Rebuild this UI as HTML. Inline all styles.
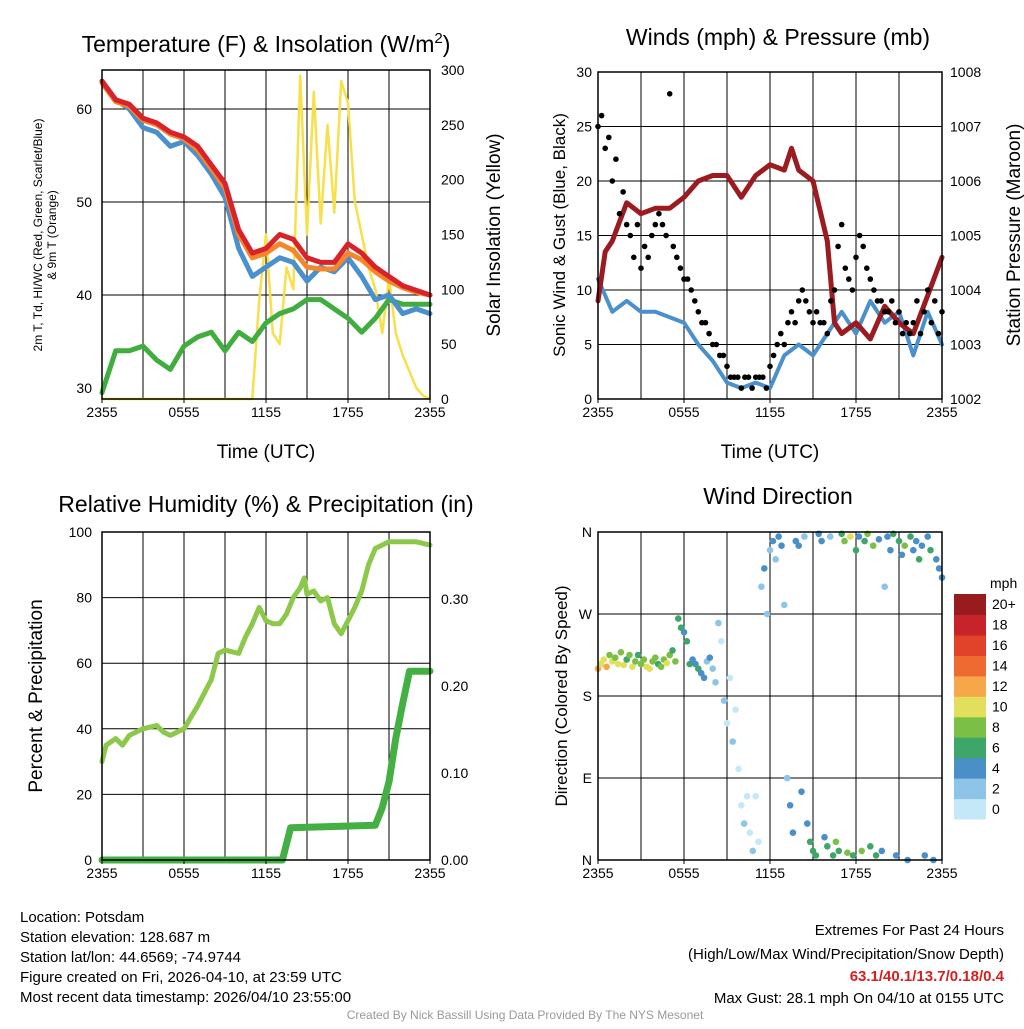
<!DOCTYPE html>
<html><head><meta charset="utf-8"><title>Mesonet Meteogram</title>
<style>
html,body{margin:0;padding:0;background:#fff;}
svg text{font-family:"Liberation Sans",Arial,sans-serif;fill:#000;}
</style></head>
<body>
<svg id="chart" width="1024" height="1024" viewBox="0 0 1024 1024" xmlns="http://www.w3.org/2000/svg">
<rect width="1024" height="1024" fill="#fff"/>
<g id="layer"></g>
<text x="20" y="922" font-size="15">Location: Potsdam</text>
<text x="20" y="942" font-size="15">Station elevation: 128.687 m</text>
<text x="20" y="962" font-size="15">Station lat/lon: 44.6569; -74.9744</text>
<text x="20" y="982" font-size="15">Figure created on Fri, 2026-04-10, at 23:59 UTC</text>
<text x="20" y="1002" font-size="15">Most recent data timestamp: 2026/04/10 23:55:00</text>
<text x="1004" y="935" font-size="15" text-anchor="end">Extremes For Past 24 Hours</text>
<text x="1004" y="959" font-size="15" text-anchor="end">(High/Low/Max Wind/Precipitation/Snow Depth)</text>
<text x="1004" y="981" font-size="15" font-weight="bold" text-anchor="end" style="fill:#d42020">63.1/40.1/13.7/0.18/0.4</text>
<text x="1004" y="1003" font-size="15" text-anchor="end">Max Gust: 28.1 mph On 04/10 at 0155 UTC</text>
<text x="525" y="1019" font-size="12" text-anchor="middle" style="fill:#999">Created By Nick Bassill Using Data Provided By The NYS Mesonet</text>
</svg>
<script>
// ---- data ----
const xTickLabels = ["2355","0555","1155","1755","2355"];
const hourly = [0,1,2,3,4,5,6,7,8,9,10,11,12,13,14,15,16,17,18,19,20,21,22,23,24];
const airTemp = [63,61,60.5,59,58.5,57.5,57,56,54,52,47,44.5,45,46.5,46,44,43.5,43.5,45.5,44.5,43,42,41,40.5,40];
const nineMTemp = [62.8,60.8,60.3,58.8,58.3,57.3,56.8,55.6,53.6,51.5,46.5,44,44.5,45.5,44.8,43,42.8,42.8,44.5,43.8,42.5,41.5,40.8,40.3,40];
const windChill = [63,61,60,58,57.5,56,56.5,55,53,50.5,45,42,43,44,43.5,41.5,43,42.5,44,42,39.5,40,38,38.5,38];
const dewPoint = [29.5,34,34,34.5,33,32,34.5,35.5,36,34,36,35,37,38,38.5,39.5,39.5,38.5,37.5,36,37.5,39.5,39,39,39];
const tempTicks = [30,40,50,60];
const solarTicks = [0,50,100,150,200,250,300];
const solarHours = [];
for (let i=0;i<=48;i++) solarHours.push(i/2);
const solar = [0,0,0,0,0,0,0,0,0,0,0,0,0,0,0,0,0,0,0,0,0,0,0,90,150,60,50,120,100,295,150,280,160,250,170,290,270,180,150,120,100,60,110,60,40,25,10,3,0];

const windHours = hourly;
const sonicWind = [11,8,9,8,8,7.5,7,5,3.5,1.5,1,1.5,1,4,5,4,6,8,6,9,7,8,4,8,5];
const pressHours = [0,0.5,1,2,3,4,5,6,7,8,9,10,11,12,13,13.5,14,15,16,16.5,17,18,19,20,21,22,23,24];
const pressure = [1003.8,1004.7,1004.9,1005.6,1005.4,1005.5,1005.5,1005.7,1006.0,1006.1,1006.1,1005.7,1006.1,1006.3,1006.2,1006.6,1006.2,1006.0,1004.9,1003.4,1003.2,1003.4,1003.1,1003.7,1003.4,1003.2,1003.9,1004.6];
const gustHours = [];
for (let i=0;i<=96;i++) gustHours.push(i/4);
const gusts = [25,26,23,24,20,22,17,19,16, 15,13,16,12,14,13,15,16, 17,16,15,28,14,13,12,11, 11,10,9,8,7,7,6,5, 5,4,4,3,2,2,2,1, 2,2,1,2,2,2,1,3, 4,5,6,5,7,8,7,9, 10,9,8,7,8,7,7,6, 9,10,14,16,12,11,10,13, 15,14,12,11,10,9,9,8, 8,9,7,8,6,7,6,7, 9,6,8,10,7,9,6,8];
const windTicks = [0,5,10,15,20,25,30];
const pressTicks = [1002,1003,1004,1005,1006,1007,1008];

const rhHours = [0,0.3,1,1.5,2,3,4,4.5,5,6,7,8,8.5,9,10,10.5,11,11.5,12,12.5,13,13.5,14,14.5,14.8,15,15.5,16,16.5,17,17.5,18,18.5,19,19.5,20,21,22,23,24];
const rh = [30,35,37,35,38,40,41,39,38,40,47,55,63,64,63,68,72,77,73,72,72,75,80,83,86,81,82,79,80,72,69,73,77,82,90,95,97,97,97,96];
const precipHours = [0,13.2,13.8,20,20.5,21,21.5,22,22.5,24];
const precip = [0,0,0.037,0.04,0.06,0.09,0.14,0.18,0.217,0.217];
const rhTicks = [0,20,40,60,80,100];
const precipTicks = ["0.00","0.10","0.20","0.30"];

const wdHours = [0,0.2,0.4,0.6,0.8,1,1.2,1.4,1.6,1.8,2,2.2,2.4,2.6,2.8,3,3.2,3.4,3.6,3.8,4,4.2,4.4,4.6,4.8,5,5.2,5.4,5.6,5.8,6,6.2,6.4,6.6,6.8,7,7.2,7.4,7.6,7.8,8,8.2,8.4,8.6,8.8,9,9.2,9.4,9.6,9.8,10,10.2,10.4,10.6,10.8,11,11.2,11.4,11.6,11.8,12,12.2,12.4,12.6,12.8,13,13.2,13.4,13.6,13.8,14,14.2,14.4,14.6,14.8,15,15.2,15.4,15.6,15.8,16,16.2,16.4,16.6,16.8,17,17.2,17.4,17.6,17.8,18,18.2,18.4,18.6,18.8,19,19.2,19.4,19.6,19.8,20,20.2,20.4,20.6,20.8,21,21.2,21.4,21.6,21.8,22,22.2,22.4,22.6,22.8,23,23.2,23.4,23.6,23.8,24];
const wdDirs = [210,215,220,212,225,218,222,215,228,214,220,225,212,218,225,215,220,212,210,218,222,215,212,220,216,225,230,218,265,255,250,240,215,220,215,210,205,200,218,222,210,195,260,240,175,150,200,130,165,100,60,40,70,30,10,70,20,300,320,270,340,350,330,355,345,280,90,60,30,350,345,75,355,40,20,10,5,358,350,25,15,355,5,20,10,358,350,8,355,5,340,355,10,350,358,15,345,5,352,10,300,355,340,358,5,350,335,345,0,355,340,350,330,345,5,355,340,0,330,320,310];
const wdSpeeds = [12,11,10,12,9,10,8,11,9,10,7,8,10,9,7,8,9,10,11,8,9,7,8,9,10,8,7,9,6,7,5,6,7,5,4,6,5,4,3,5,3,2,2,1,2,1,1,2,0,1,1,2,1,1,2,1,0,3,4,2,3,4,2,4,5,3,3,4,5,4,5,4,3,5,6,7,6,4,5,5,6,3,7,8,7,7,8,9,10,7,6,4,8,7,9,7,8,6,5,5,2,4,5,7,4,6,5,8,5,6,4,5,6,4,4,5,6,4,5,4,5];
const cbLabels = ["0","2","4","6","8","10","12","14","16","18","20+"];
const cbColors = ["#c5e8f8","#8dc4e8","#4a8fc8","#3fa66a","#7cbf46","#e2df5c","#f6a74a","#ee6a30","#e0432a","#c6242a","#981b1e"];

// ---- drawing ----
const NS="http://www.w3.org/2000/svg";
const layer=document.getElementById('layer');
function el(tag,attrs,parent){const e=document.createElementNS(NS,tag);for(const k in attrs)e.setAttribute(k,attrs[k]);(parent||layer).appendChild(e);return e;}
function txt(s,x,y,size,anchor,name,extra){const t=el('text',Object.assign({x:x,y:y,'font-size':size,'text-anchor':anchor||'start'},extra||{}));t.textContent=s;


return t;}
function frame(x0,x1,y0,y1,name,hLines){
  const g=el('g',{});
  
  
  for(let i=1;i<8;i++){const x=x0+(x1-x0)*i/8;el('line',{x1:x,x2:x,y1:y0,y2:y1,stroke:'#000','stroke-width':1},g);}
  hLines.forEach(y=>el('line',{x1:x0,x2:x1,y1:y,y2:y,stroke:'#000','stroke-width':1},g));
  return g;
}
function border(x0,x1,y0,y1,name){const r=el('rect',{x:x0,y:y0,width:x1-x0,height:y1-y0,fill:'none',stroke:'#000','stroke-width':1.5});

}
function xLabels(x0,x1,y,name){xTickLabels.forEach((s,i)=>{txt(s,x0+(x1-x0)*i/4,y,14,'middle',name);
el('line',{x1:x0+(x1-x0)*i/4,x2:x0+(x1-x0)*i/4,y1:y-14,y2:y-19,stroke:'#000'});});}
function line(xs,ys,X,Y,color,w,name){const pts=xs.map((h,i)=>X(h).toFixed(1)+','+Y(ys[i]).toFixed(1)).join(' ');
const p=el('polyline',{points:pts,fill:'none',stroke:color,'stroke-width':w,'stroke-linejoin':'round','stroke-linecap':'round'});

}

// Panel 1: temperature
(function(){
  const x0=102,x1=430,y0=70,y1=399;
  const X=h=>x0+h*(x1-x0)/24, YL=v=>388-(v-30)*9.3, YR=v=>y1-v*(y1-y0)/300;
  frame(x0,x1,y0,y1,'temperature-grid',[50,40,60].map(YL).concat([YL(50)]));
  line(solarHours,solar,X,YR,'#f7e04a',2.5,'solar-insolation-line');
  line(hourly,dewPoint,X,YL,'#3fae3f',5,'dewpoint-line');
  line(hourly,windChill,X,YL,'#4a90cc',5,'wind-chill-line');
  line(hourly,nineMTemp,X,YL,'#f7862a',5,'9m-temp-line');
  line(hourly,airTemp,X,YL,'#d8232a',5,'air-temp-line');
  border(x0,x1,y0,y1,'temperature-plot-frame');
  tempTicks.forEach(v=>txt(String(v),92,YL(v)+5,14,'end','temp-tick-label'));
  solarTicks.forEach(v=>txt(String(v),441,YR(v)+5,14,'start','solar-tick-label'));
  xLabels(x0,x1,417,'temp-x-tick-label');
  txt('Time (UTC)',266,458,19,'middle','temp-x-axis-title');
  const t=txt('Temperature (F) & Insolation (W/m',266,52,23,'middle','temp-panel-title');
  const sup=el('tspan',{dy:-9,'font-size':15},t);sup.textContent='2';
  const cl=el('tspan',{dy:9},t);cl.textContent=')';
  txt('Solar Insolation (Yellow)',0,0,19,'middle','solar-axis-title',{transform:'translate(500,235) rotate(-90)'});
  txt('2m T, T',0,0,12,'middle','temp-axis-title-line1',{transform:'translate(42,235) rotate(-90)'}).textContent='2m T, Td, HI/WC (Red, Green, Scarlet/Blue)';
  txt('& 9m T (Orange)',0,0,12,'middle','temp-axis-title-line2',{transform:'translate(56,235) rotate(-90)'});
})();

// Panel 2: winds
(function(){
  const x0=598,x1=942,y0=72,y1=399;
  const X=h=>x0+h*(x1-x0)/24, YL=v=>y1-v*(y1-y0)/30, YR=p=>y1-(p-1002)*(y1-y0)/6;
  frame(x0,x1,y0,y1,'winds-grid',[5,10,15,20,25].map(YL));
  line(windHours,sonicWind,X,YL,'#4a90cc',4,'sonic-wind-line');
  line(pressHours,pressure,X,YR,'#9b1c20',5,'pressure-line');
  gustHours.forEach((h,i)=>{const c=el('circle',{cx:X(h).toFixed(1),cy:YL(gusts[i]).toFixed(1),r:2.8,fill:'#000'});
  
  });
  border(x0,x1,y0,y1,'winds-plot-frame');
  windTicks.forEach(v=>txt(String(v),592,YL(v)+5,14,'end','wind-tick-label'));
  pressTicks.forEach(v=>txt(String(v),950,YR(v)+5,14,'start','pressure-tick-label'));
  xLabels(x0,x1,417,'wind-x-tick-label');
  txt('Time (UTC)',770,458,19,'middle','wind-x-axis-title');
  txt('Winds (mph) & Pressure (mb)',778,45,23,'middle','winds-panel-title');
  txt('Sonic Wind & Gust (Blue, Black)',0,0,17,'middle','wind-axis-title',{transform:'translate(565,235) rotate(-90)'});
  txt('Station Pressure (Maroon)',0,0,19,'middle','pressure-axis-title',{transform:'translate(1020,235) rotate(-90)'});
})();

// Panel 3: RH
(function(){
  const x0=102,x1=430,y0=532,y1=860;
  const X=h=>x0+h*(x1-x0)/24, Y=v=>y1-v*(y1-y0)/100, YR=p=>y1-p*870;
  frame(x0,x1,y0,y1,'rh-grid',[20,40,60,80].map(Y));
  line(precipHours,precip,X,YR,'#44b044',7,'precip-line');
  line(rhHours,rh,X,Y,'#8cc84a',5,'rh-line');
  border(x0,x1,y0,y1,'rh-plot-frame');
  rhTicks.forEach(v=>txt(String(v),92,Y(v)+5,14,'end','rh-tick-label'));
  precipTicks.forEach(s=>txt(s,441,YR(parseFloat(s))+5,14,'start','precip-tick-label'));
  xLabels(x0,x1,878,'rh-x-tick-label');
  txt('Relative Humidity (%) & Precipitation (in)',266,512,23,'middle','rh-panel-title');
  txt('Percent & Precipitation',0,0,19,'middle','rh-axis-title',{transform:'translate(42,696) rotate(-90)'});
})();

// Panel 4: wind direction
(function(){
  const x0=598,x1=942,y0=532,y1=860;
  const X=h=>x0+h*(x1-x0)/24, Y=d=>y1-d*(y1-y0)/360;
  frame(x0,x1,y0,y1,'wind-direction-grid',[90,180,270].map(Y));
  wdHours.forEach((h,i)=>{const idx=Math.min(10,Math.floor(wdSpeeds[i]/2));
    const c=el('circle',{cx:X(h).toFixed(1),cy:Y(wdDirs[i]).toFixed(1),r:3.3,fill:cbColors[idx]});
    
    });
  border(x0,x1,y0,y1,'wind-direction-plot-frame');
  ['N','E','S','W','N'].forEach((s,i)=>txt(s,592,Y(i*90)+5,14,'end','direction-tick-label'));
  xLabels(x0,x1,878,'direction-x-tick-label');
  txt('Wind Direction',778,504,23,'middle','wind-direction-title');
  txt('Direction (Colored By Speed)',0,0,17,'middle','direction-axis-title',{transform:'translate(567,696) rotate(-90)'});
  const bx=954,bt=594,bh=225/11;
  cbColors.forEach((c,i)=>{const r=el('rect',{x:bx,y:(bt+(10-i)*bh).toFixed(1),width:32,height:(bh+0.5).toFixed(1),fill:c});
    
    
    txt(cbLabels[i],992,bt+(10-i)*bh+bh/2+5,14,'start','colorbar-label');});
  txt('mph',990,588,14,'start','colorbar-units');
})();
</script>
</body></html>
